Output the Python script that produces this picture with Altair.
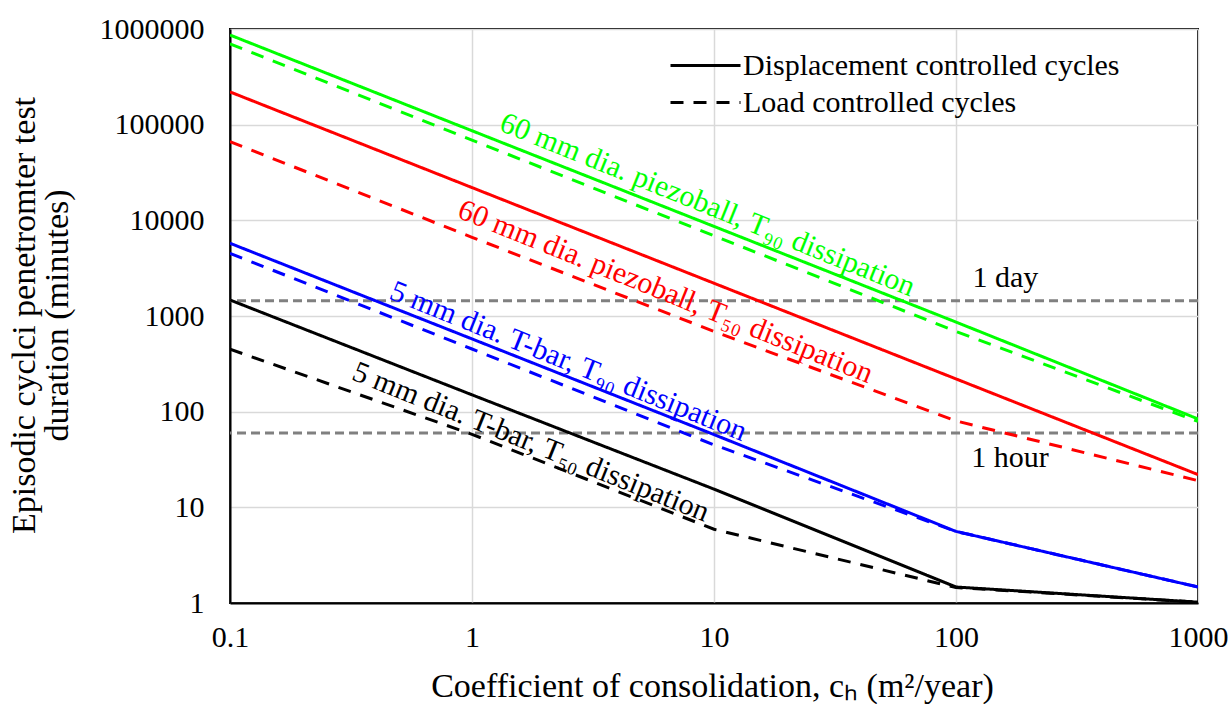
import altair as alt
import pandas as pd

# Coefficient of consolidation (m^2/year) at which each duration was evaluated
ch = [0.1, 1, 10, 100, 1000]

# Test durations (minutes) for each probe / dissipation level and cycling mode
green_disp = [865000, 86400, 8640, 864, 84]
green_load = [700000, 69000, 6900, 690, 79]
red_disp = [220000, 22000, 2200, 220, 22]
red_load = [66500, 6650, 690, 80, 19]
blue_disp = [5760, 576, 57.6, 5.6, 1.47]
blue_load = [4520, 452, 45, 5.6, 1.47]
black_disp = [1470, 150, 15.5, 1.47, 1.02]
black_load = [450, 58, 5.9, 1.45, 1.02]

probes = ["piezoball T90", "piezoball T50", "T-bar T90", "T-bar T50"]
probe_colors = ["#00ff00", "#ff0000", "#0000ff", "#000000"]
modes = ["Displacement controlled cycles", "Load controlled cycles"]

series = [
    (probes[0], modes[0], green_disp),
    (probes[0], modes[1], green_load),
    (probes[1], modes[0], red_disp),
    (probes[1], modes[1], red_load),
    (probes[2], modes[0], blue_disp),
    (probes[2], modes[1], blue_load),
    (probes[3], modes[0], black_disp),
    (probes[3], modes[1], black_load),
]

# Curve annotations
label_text = [
    "60 mm dia. piezoball, T₉₀ dissipation",
    "60 mm dia. piezoball, T₅₀ dissipation",
    "5 mm dia. T-bar, T₉₀ dissipation",
    "5 mm dia. T-bar, T₅₀ dissipation",
]
label_ch = [9.4, 6.3, 2.5, 1.75]
label_T = [14500, 1790, 335, 48]

# Reference durations
ref_minutes = [1440, 60]
ref_text = ["1 day", "1 hour"]
ref_label_ch = [160, 167]
ref_label_T = [2500, 33]

rows = []
for probe, mode, vals in series:
    for c, t in zip(ch, vals):
        rows.append({"ch": c, "T": t, "probe": probe, "mode": mode})
lines_df = pd.DataFrame(rows)

labels_df = pd.DataFrame({"ch": label_ch, "T": label_T, "text": label_text, "probe": probes})
ref_df = pd.DataFrame({"T": ref_minutes})
ref_lab_df = pd.DataFrame({"ch": ref_label_ch, "T": ref_label_T, "text": ref_text})

FONT = "Liberation Serif"
TICK_FS = 30
TEXT_FS = 30
TITLE_FS = 34

x_enc = alt.X(
    "ch:Q",
    scale=alt.Scale(type="log", domain=[0.1, 1000], nice=False),
    axis=alt.Axis(
        values=ch,
        format=".7~g",
        ticks=False,
        labelFlush=False,
        labelOverlap=False,
        labelFont=FONT,
        labelFontSize=TICK_FS,
        labelColor="black",
        labelPadding=19,
        domainColor="black",
        domainWidth=2,
        gridColor="#d9d9d9",
        gridWidth=1.5,
        title="Coefficient of consolidation, cₕ (m²/year)",
        titleFont=FONT,
        titleFontSize=TITLE_FS,
        titleFontWeight="normal",
        titleColor="black",
        titleX=482,
        titleY=83,
        titleAlign="center",
        titleBaseline="middle",
    ),
)

y_enc = alt.Y(
    "T:Q",
    scale=alt.Scale(type="log", domain=[1, 1000000], nice=False),
    axis=alt.Axis(
        values=[1, 10, 100, 1000, 10000, 100000, 1000000],
        format=".7~g",
        ticks=False,
        labelFlush=False,
        labelOverlap=False,
        labelFont=FONT,
        labelFontSize=TICK_FS,
        labelColor="black",
        labelPadding=26,
        domainColor="black",
        domainWidth=2,
        gridColor="#d9d9d9",
        gridWidth=1.5,
        title=["Episodic cyclci penetromter test", "duration (minutes)"],
        titleFont=FONT,
        titleFontSize=TITLE_FS,
        titleFontWeight="normal",
        titleColor="black",
        titleAngle=270,
        titleX=-206,
        titleY=286,
        titleAlign="center",
        titleBaseline="middle",
        titleLineHeight=33,
    ),
)

color_scale = alt.Scale(domain=probes, range=probe_colors)

ref_rules = alt.Chart(ref_df).mark_rule(
    color="#808080", strokeWidth=3, strokeDash=[9, 5]
).encode(y=y_enc)

curves = alt.Chart(lines_df).mark_line(strokeWidth=3, clip=True).encode(
    x=x_enc,
    y=y_enc,
    order="ch:Q",
    color=alt.Color("probe:N", scale=color_scale, legend=None),
    strokeDash=alt.StrokeDash(
        "mode:N",
        scale=alt.Scale(domain=modes, range=[[1, 0], [13, 10]]),
        legend=alt.Legend(
            title=None,
            orient="none",
            legendX=460,
            legendY=21,
            padding=0,
            symbolType="M-2.5,0H2.5",
            symbolSize=784,
            symbolStrokeWidth=3,
            symbolStrokeColor="black",
            symbolFillColor="transparent",
            labelFont=FONT,
            labelFontSize=TEXT_FS,
            labelColor="black",
            labelLimit=600,
            labelOffset=22,
            rowPadding=6,
        ),
    ),
)

curve_labels = alt.Chart(labels_df).mark_text(
    angle=22, font=FONT, fontSize=TEXT_FS, align="center", baseline="middle"
).encode(
    x=x_enc,
    y=y_enc,
    text="text:N",
    color=alt.Color("probe:N", scale=color_scale, legend=None),
)

ref_labels = alt.Chart(ref_lab_df).mark_text(
    font=FONT, fontSize=TEXT_FS, align="center", baseline="middle", color="black"
).encode(x=x_enc, y=y_enc, text="text:N")

chart = (
    alt.layer(ref_rules, curves, curve_labels, ref_labels)
    .properties(
        width=968,
        height=574,
        autosize=alt.AutoSizeParams(type="none"),
        padding={"left": 230, "top": 29, "right": 31, "bottom": 101},
        background="white",
    )
    .configure_view(stroke="black", strokeWidth=2)
)

chart.save("out.html", embed_options={"renderer": "svg", "actions": False})
